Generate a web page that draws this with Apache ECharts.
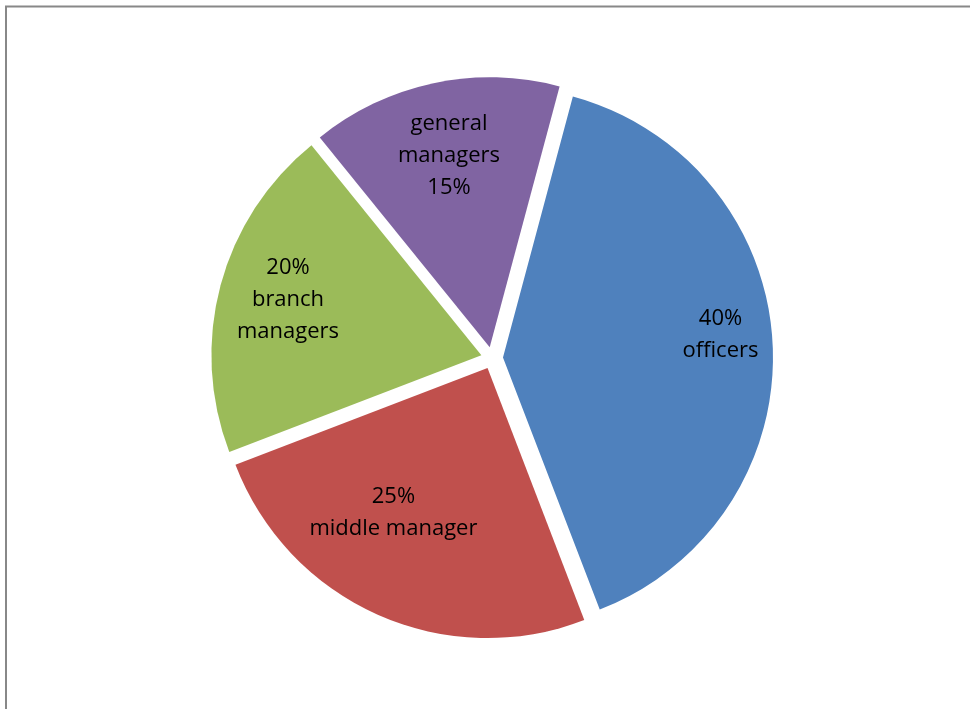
<!DOCTYPE html>
<html>
<head>
<meta charset="utf-8">
<script src="https://cdn.jsdelivr.net/npm/echarts@6/dist/echarts.min.js"></script>
<style>
  html, body { margin: 0; padding: 0; background: #fff; }
  #chart { width: 970px; height: 709px; }
</style>
</head>
<body>
<div id="chart"></div>
<script>
// data
const categories = ['officers', 'middle manager', 'branch managers', 'general managers'];
const values = [40, 25, 20, 15];
const labelText = ['officers', 'middle manager', 'branch\nmanagers', 'general\nmanagers'];
const colors = ['#4F81BD', '#C0504D', '#9BBB59', '#8064A2'];

// layout
const cx = 492, cy = 358, R = 270, explode = 11;
const startAngle = 75;
// label placement, as fraction of radius + angle nudge (deg, clockwise)
const labelRadius = [0.81, 0.64, 0.745, 0.725];
const labelNudge = [-3, 9, 1, 0];

const total = values.reduce((a, b) => a + b, 0);
const midAngles = [];
let cum = 0;
values.forEach(v => {
  midAngles.push(startAngle - (cum + v / 2) / total * 360);
  cum += v;
});

// data labels, placed inside each exploded slice
const labels = values.map((v, i) => {
  const a = midAngles[i] * Math.PI / 180;
  const b = (midAngles[i] - labelNudge[i]) * Math.PI / 180;
  const d = labelRadius[i] * R;
  const pct = Math.round(v / total * 100) + '%';
  return {
    type: 'text',
    silent: true,
    z: 10,
    x: cx + explode * Math.cos(a) + d * Math.cos(b),
    y: cy - explode * Math.sin(a) - d * Math.sin(b),
    style: {
      text: i === 3 ? labelText[i] + '\n' + pct : pct + '\n' + labelText[i],
      fill: '#000',
      fontFamily: 'Open Sans',
      fontSize: 22,
      lineHeight: 32,
      align: 'center',
      verticalAlign: 'middle'
    }
  };
});

const chart = echarts.init(document.getElementById('chart'));

const option = {
  animation: false,
  graphic: [{
    type: 'rect',
    shape: { x: 6, y: 6.5, width: 1200, height: 1200 },
    style: { fill: 'none', stroke: '#888888', lineWidth: 2 },
    silent: true
  }].concat(labels),
  series: [{
    type: 'pie',
    center: [cx, cy],
    radius: R,
    startAngle: startAngle,
    clockwise: true,
    selectedMode: 'multiple',
    selectedOffset: explode,
    label: { show: false },
    labelLine: { show: false },
    emphasis: { disabled: true },
    data: categories.map((name, i) => ({
      name: name,
      value: values[i],
      selected: true,
      itemStyle: { color: colors[i] }
    }))
  }]
};

chart.setOption(option);
</script>
</body>
</html>
